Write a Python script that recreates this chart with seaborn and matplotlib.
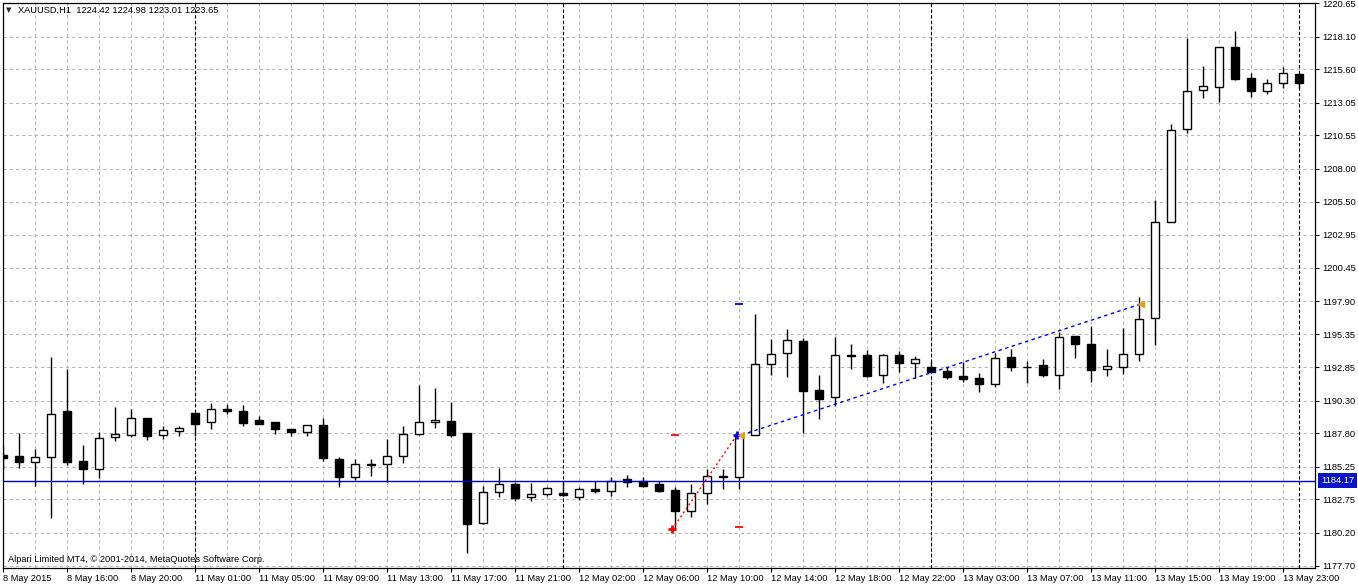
import numpy as np
import pandas as pd
import matplotlib
matplotlib.use("Agg")
import matplotlib.pyplot as plt
import matplotlib.transforms as mtransforms
import seaborn as sns

# ---------------- data ----------------
opens = [1186.14, 1186.07, 1185.58, 1185.97, 1189.50, 1185.68, 1185.05, 1187.50, 1187.69, 1188.94,
         1187.65, 1187.95, 1189.33, 1188.64, 1189.66, 1189.50, 1188.82, 1188.66, 1188.13, 1187.88,
         1188.41, 1185.81, 1184.48, 1185.40, 1185.43, 1186.04, 1187.77, 1188.64, 1188.74, 1187.80,
         1180.92, 1183.29, 1183.93, 1182.93, 1183.14, 1183.24, 1182.96, 1183.52, 1183.42, 1184.31,
         1184.18, 1183.93, 1183.47, 1181.89, 1183.22, 1184.50, 1184.48, 1187.67, 1193.07, 1193.91,
         1194.85, 1191.11, 1190.55, 1193.72, 1193.76, 1192.23, 1193.76, 1193.15, 1192.84, 1192.56,
         1192.18, 1192.00, 1191.59, 1193.61, 1192.90, 1193.00, 1192.23, 1195.23, 1194.60, 1192.69,
         1192.89, 1193.84, 1196.58, 1203.92, 1211.02, 1214.00, 1214.28, 1217.29, 1214.92, 1213.97,
         1214.54, 1215.22]
highs = [1186.83, 1187.80, 1186.60, 1193.65, 1192.71, 1186.91, 1187.88, 1189.79, 1189.66, 1188.94,
         1188.36, 1188.36, 1189.33, 1190.09, 1190.02, 1189.94, 1189.12, 1188.66, 1188.13, 1188.41,
         1188.94, 1186.01, 1185.86, 1185.84, 1187.37, 1188.33, 1191.49, 1191.24, 1190.17, 1187.80,
         1183.77, 1185.13, 1184.10, 1183.98, 1183.72, 1184.06, 1183.67, 1184.18, 1184.48, 1184.61,
         1184.48, 1184.16, 1183.68, 1183.93, 1185.07, 1185.07, 1187.67, 1196.91, 1195.00, 1195.77,
         1195.06, 1192.25, 1195.13, 1194.60, 1194.16, 1193.86, 1194.09, 1193.70, 1193.27, 1192.84,
         1193.27, 1192.38, 1193.91, 1194.24, 1193.32, 1193.48, 1195.56, 1195.23, 1196.02, 1194.24,
         1195.87, 1198.23, 1205.62, 1211.43, 1218.02, 1215.86, 1217.29, 1218.55, 1215.35, 1214.84,
         1215.76, 1215.22]
lows = [1185.00, 1185.13, 1183.80, 1181.35, 1185.38, 1183.93, 1184.41, 1187.24, 1187.54, 1187.29,
        1187.37, 1187.59, 1187.59, 1188.15, 1189.25, 1188.36, 1188.53, 1187.77, 1187.62, 1187.59,
        1185.71, 1183.72, 1184.23, 1184.56, 1184.06, 1185.51, 1187.65, 1188.23, 1187.50, 1178.63,
        1180.85, 1182.91, 1182.65, 1182.65, 1183.03, 1183.03, 1182.71, 1183.22, 1183.03, 1183.68,
        1183.72, 1183.32, 1180.47, 1181.38, 1182.38, 1183.52, 1183.52, 1187.67, 1192.25, 1192.12,
        1187.80, 1188.87, 1189.91, 1192.69, 1192.12, 1191.67, 1192.51, 1192.05, 1192.51, 1191.97,
        1191.74, 1190.98, 1191.36, 1192.58, 1191.67, 1192.12, 1191.16, 1193.57, 1191.74, 1192.20,
        1192.31, 1193.32, 1194.54, 1203.92, 1210.76, 1213.44, 1213.13, 1214.79, 1213.51, 1213.72,
        1214.15, 1214.15]
closes = [1185.94, 1185.58, 1185.97, 1189.25, 1185.63, 1185.10, 1187.42, 1187.72, 1188.94, 1187.62,
          1188.05, 1188.20, 1188.53, 1189.63, 1189.53, 1188.61, 1188.53, 1188.15, 1187.88, 1188.41,
          1185.94, 1184.48, 1185.43, 1185.45, 1186.04, 1187.72, 1188.64, 1188.82, 1187.69, 1180.85,
          1183.29, 1183.93, 1182.88, 1183.16, 1183.60, 1183.06, 1183.52, 1183.42, 1184.18, 1184.10,
          1183.80, 1183.39, 1181.89, 1183.22, 1184.54, 1184.54, 1187.67, 1193.07, 1193.84, 1194.90,
          1191.05, 1190.44, 1193.76, 1193.76, 1192.20, 1193.76, 1193.15, 1193.45, 1192.51, 1192.12,
          1191.95, 1191.59, 1193.53, 1192.89, 1192.87, 1192.28, 1195.18, 1194.60, 1192.66, 1192.92,
          1193.84, 1196.51, 1203.92, 1210.97, 1213.95, 1214.33, 1217.29, 1214.87, 1213.97, 1214.54,
          1215.30, 1214.58]

time_labels = ["8 May 2015", "8 May 16:00", "8 May 20:00", "11 May 01:00", "11 May 05:00",
               "11 May 09:00", "11 May 13:00", "11 May 17:00", "11 May 21:00", "12 May 02:00",
               "12 May 06:00", "12 May 10:00", "12 May 14:00", "12 May 18:00", "12 May 22:00",
               "13 May 03:00", "13 May 07:00", "13 May 11:00", "13 May 15:00", "13 May 19:00",
               "13 May 23:00"]
label_every = 4
day_separators = [12, 35, 58, 81]

price_ticks = [1220.65, 1218.10, 1215.60, 1213.05, 1210.55, 1208.00, 1205.50, 1202.95, 1200.45,
               1197.90, 1195.35, 1192.85, 1190.30, 1187.80, 1185.25, 1182.75, 1180.20, 1177.70]

hline_price = 1184.17

# trades (bar index, price)
red_trade_idx = [42, 46]
red_trade_price = [1180.47, 1187.67]
red_level_idx = [42, 46]
red_level_price = [1187.67, 1180.66]
blue_trade_idx = [46, 71]
blue_trade_price = [1187.67, 1197.68]
blue_level_idx = [46]
blue_level_price = [1197.65]

header = "XAUUSD,H1  1224.42 1224.98 1223.01 1223.65"
copyright_text = "Alpari Limited MT4, \u00a9 2001-2014, MetaQuotes Software Corp."

# ---------------- style ----------------
sns.set_theme(style="white")
plt.rcParams['font.family'] = ['Liberation Sans', 'DejaVu Sans']
plt.rcParams['axes.edgecolor'] = 'black'
plt.rcParams['axes.linewidth'] = 0.8

W, H = 1358, 586
fig = plt.figure(figsize=(W / 100, H / 100), dpi=100)
fig.patch.set_facecolor('white')
ax_l, ax_r, ax_t, ax_b = 2.7, 1315.0, 2.7, 567.5
ax = fig.add_axes([ax_l / W, 1 - ax_b / H, (ax_r - ax_l) / W, (ax_b - ax_t) / H])
ax.set_facecolor('white')

df = pd.DataFrame({"o": opens, "h": highs, "l": lows, "c": closes})
df["i"] = np.arange(len(df))
df["bull"] = df["c"] >= df["o"]

px_per_bar = 16.0
xmin = -0.6 / px_per_bar
xmax = xmin + (ax_r - ax_l) / px_per_bar
ax.set_xlim(xmin, xmax)
ax.set_ylim(1177.55, 1220.69)

# grid
grid_kw = dict(color='#b4b4b4', linewidth=0.75, linestyle=(0, (3, 3)))
ax.set_xticks(np.arange(0, len(df), 2), minor=True)
ax.grid(True, which='minor', axis='x', **grid_kw)
ax.grid(True, which='major', axis='x', **grid_kw)
ax.grid(True, which='major', axis='y', **grid_kw)
ax.set_axisbelow(True)

# day separators
for d in day_separators:
    ax.axvline(d, color='black', linewidth=0.8, linestyle=(0, (3, 2)), zorder=1.5)

# candles: wicks
ax.vlines(df["i"], df["l"], df["h"], color='black', linewidth=1.0, zorder=2)
# bodies
body_w = 0.52
bottoms = np.minimum(df["o"], df["c"])
heights = np.maximum(np.abs(df["c"] - df["o"]), 0.02)
face = np.where(df["bull"], 'white', 'black')
ax.bar(df["i"], heights, bottom=bottoms, width=body_w, color=face,
       edgecolor='black', linewidth=1.0, zorder=2.5)

# horizontal price line
ax.axhline(hline_price, color='#0000e0', linewidth=1.0, zorder=3)
trans = mtransforms.blended_transform_factory(ax.transAxes, ax.transData)
ax.text(1.0, hline_price, f"{hline_price:.2f}",
        transform=trans + mtransforms.ScaledTranslation(6 / 100, 0, fig.dpi_scale_trans),
        ha='left', va='center', color='white', fontsize=6.7, clip_on=False,
        bbox=dict(boxstyle='square,pad=0.32', fc='#0a14c8', ec='none'))

# trade lines
red_df = pd.DataFrame({"x": np.array(red_trade_idx, float) + np.array([-0.19, -0.15]),
                       "y": red_trade_price})
sns.lineplot(data=red_df, x="x", y="y", ax=ax, color='red', linewidth=1.0,
             linestyle=(0, (1.5, 2)), estimator=None, sort=False, zorder=4)
blue_df = pd.DataFrame({"x": np.array(blue_trade_idx, float) + np.array([0.12, 0.1]),
                        "y": blue_trade_price})
sns.lineplot(data=blue_df, x="x", y="y", ax=ax, color='#0000ff', linewidth=1.0,
             linestyle=(0, (2.5, 2.5)), estimator=None, sort=False, zorder=4)

# level dashes
ax.plot(red_level_idx, red_level_price, linestyle='none', marker='_', markersize=6,
        markeredgewidth=1.3, color='red', zorder=4)
ax.plot(blue_level_idx, blue_level_price, linestyle='none', marker='_', markersize=6,
        markeredgewidth=1.3, color='#0000ff', zorder=4)

# trade markers
ax.plot([red_trade_idx[0] - 0.19], [red_trade_price[0]], marker='+', markersize=6,
        markeredgewidth=2.0, color='red', linestyle='none', zorder=5)
ax.plot([blue_trade_idx[0] - 0.15], [blue_trade_price[0]], marker='+', markersize=6,
        markeredgewidth=2.0, color='#0000ff', linestyle='none', zorder=5)
ax.plot([red_trade_idx[1] + 0.12, blue_trade_idx[1] + 0.1],
        [red_trade_price[1], blue_trade_price[1]], marker='<', markersize=5,
        color='#daa520', linestyle='none', zorder=5)

# ticks
ax.set_xticks(np.arange(0, len(time_labels) * label_every, label_every))
ax.set_xticklabels(time_labels, ha='left', fontsize=6.7)
for lbl in ax.get_xticklabels():
    lbl.set_transform(lbl.get_transform() + mtransforms.ScaledTranslation(-2 / 100, 0, fig.dpi_scale_trans))
ax.tick_params(axis='x', which='major', direction='out', length=3, width=0.8, pad=2,
               colors='black', bottom=True)
ax.tick_params(axis='x', which='minor', length=0)
ax.yaxis.tick_right()
ax.set_yticks(price_ticks)
ax.set_yticklabels([f"{p:.2f}" for p in price_ticks], fontsize=6.7)
ax.tick_params(axis='y', direction='out', length=3, width=0.8, pad=2, colors='black', right=True)
ax.set_xlabel("")
ax.set_ylabel("")
for s in ax.spines.values():
    s.set_color('black')
    s.set_linewidth(0.9)

# header & footer
fig.text(6 / W, 1 - 10 / H, "\u25bc", fontsize=5, family='DejaVu Sans', va='center', ha='left')
fig.text(18 / W, 1 - 10 / H, header, fontsize=6.7, va='center', ha='left', color='black')
fig.text(8 / W, 1 - 560 / H, copyright_text, fontsize=6.7, va='center', ha='left', color='black')

fig.savefig("out.png", dpi=100, facecolor='white')
